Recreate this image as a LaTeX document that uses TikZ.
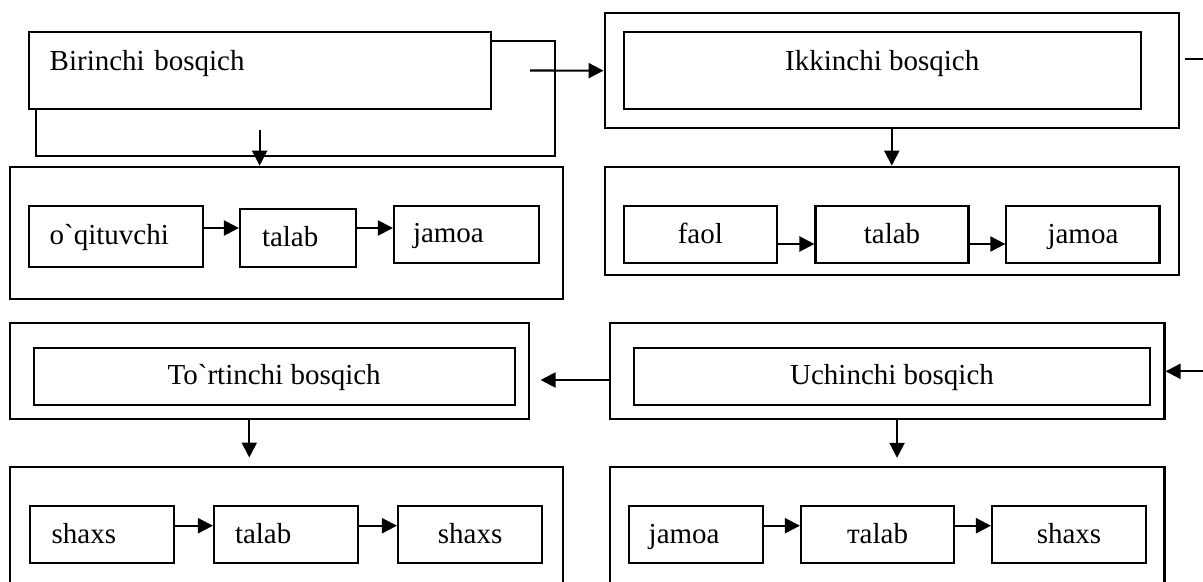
\documentclass[tikz,border=0pt]{standalone}
\usepackage{fontspec}
\setmainfont{Liberation Serif}[Ligatures=TeXOff]
\usetikzlibrary{arrows.meta}

\tikzset{
  outerbox/.style={rectangle,draw,line width=1.2pt,inner sep=0pt},
  stagebox/.style={rectangle,draw,fill=white,line width=1.2pt,inner sep=0pt},
  wordbox/.style={rectangle,draw,line width=1.2pt,text height=0.45cm,text depth=0.11cm},
  leftword/.style={wordbox,align=left,inner ysep=0pt,text width=#1},
  link/.style={->,line width=1.2pt}
}

\begin{document}
\begin{tikzpicture}[>={Triangle[length=0.3cm,width=0.3cm]},font=\fontsize{16.5}{19.8}\selectfont]
\useasboundingbox (0,0) rectangle (24.06,-11.62);

% birinchi bosqich
\path (5.906,-1.97) node[outerbox,minimum width=10.388cm,minimum height=2.3cm] (birFrame){};
\path (5.193,-1.41) node[stagebox,align=left,inner xsep=0.42cm,text width=8.398cm,text height=0.76cm,text depth=0.78cm] (bir){Birinchi bosqich};

\path (5.722,-4.657) node[outerbox,minimum width=11.06cm,minimum height=2.646cm] (grp1){};
\path (2.315,-4.724) node[leftword=2.642cm,inner xsep=0.42cm,minimum height=1.22cm] (oqit){o`qituvchi};
\path (5.96,-4.76) node[leftword=1.44cm,inner xsep=0.44cm,minimum height=1.16cm] (tal1){talab};
\path (9.33,-4.687) node[leftword=2.14cm,inner xsep=0.38cm,minimum height=1.146cm] (jam1){jamoa};
\draw[link] (oqit.east |- 0,-4.56) -- (tal1.west |- 0,-4.56);
\draw[link] (tal1.east |- 0,-4.56) -- (jam1.west |- 0,-4.56);
\draw[link] ([yshift=-0.4cm]bir.south) -- (bir.south |- grp1.north);

% ikkinchi bosqich
\path (17.836,-1.413) node[outerbox,minimum width=11.488cm,minimum height=2.294cm] (ikkFrame){};
\path (17.645,-1.41) node[stagebox,minimum width=10.342cm,text height=0.76cm,text depth=0.78cm] (ikk){Ikkinchi bosqich};
\draw[link] ([xshift=0.77cm]bir.east) -- (ikkFrame.west);

\path (17.836,-4.417) node[outerbox,minimum width=11.488cm,minimum height=2.166cm] (grp2){};
\path (14.007,-4.69) node[wordbox,minimum width=3.066cm,minimum height=1.152cm] (faol){faol};
\path (17.84,-4.69) node[wordbox,minimum width=3.06cm,minimum height=1.152cm] (tal2){talab};
\path (21.659,-4.69) node[wordbox,minimum width=3.062cm,minimum height=1.152cm] (jam2){jamoa};
\draw[link] (faol.east |- 0,-4.88) -- (tal2.west |- 0,-4.88);
\draw[link] (tal2.east |- 0,-4.88) -- (jam2.west |- 0,-4.88);
\draw[link] (ikkFrame.south) -- (grp2.north);

% uchinchi bosqich
\path (17.741,-7.426) node[outerbox,minimum width=11.098cm,minimum height=1.92cm] (uchFrame){};
\path (17.84,-7.53) node[stagebox,minimum width=10.332cm,text height=0.74cm,text depth=0.412cm] (uch){Uchinchi bosqich};
\draw[link] ([xshift=0.09cm]ikkFrame.east |- 0,-1.18) -- ++(1cm,0) |- (uchFrame.east);

\path (17.741,-10.646) node[outerbox,minimum width=11.098cm,minimum height=2.6cm] (grp3){};
\path (13.921,-10.69) node[leftword=1.894cm,inner xsep=0.4cm,minimum height=1.152cm] (jam3){jamoa};
\path (17.55,-10.69) node[wordbox,minimum width=3.06cm,minimum height=1.152cm] (tal3){тalab};
\path (21.38,-10.69) node[wordbox,minimum width=3.08cm,minimum height=1.152cm] (shx3){shaxs};
\draw[link] (jam3.east |- 0,-10.514) -- (tal3.west |- 0,-10.514);
\draw[link] (tal3.east |- 0,-10.514) -- (shx3.west |- 0,-10.514);
\draw[link] ([xshift=0.2cm]uchFrame.south) -- ++(0,-0.75);

% to`rtinchi bosqich
\path (5.386,-7.42) node[outerbox,minimum width=10.388cm,minimum height=1.92cm] (torFrame){};
\path (5.484,-7.527) node[stagebox,minimum width=9.62cm,text height=0.74cm,text depth=0.4cm] (tor){To`rtinchi bosqich};
\draw[link] (uchFrame.west |- 0,-7.6) -- ([xshift=0.21cm]torFrame.east |- 0,-7.6);

\path (5.722,-10.646) node[outerbox,minimum width=11.06cm,minimum height=2.6cm] (grp4){};
\path (2.039,-10.69) node[leftword=2.01cm,inner xsep=0.436cm,minimum height=1.152cm] (shx1){shaxs};
\path (5.718,-10.69) node[leftword=2.036cm,inner xsep=0.42cm,minimum height=1.152cm] (tal4){talab};
\path (9.403,-10.69) node[wordbox,minimum width=2.886cm,minimum height=1.152cm] (shx2){shaxs};
\draw[link] (shx1.east |- 0,-10.514) -- (tal4.west |- 0,-10.514);
\draw[link] (tal4.east |- 0,-10.514) -- (shx2.west |- 0,-10.514);
\draw[link] ([xshift=-0.4cm]torFrame.south) -- ++(0,-0.75);
\end{tikzpicture}
\end{document}
